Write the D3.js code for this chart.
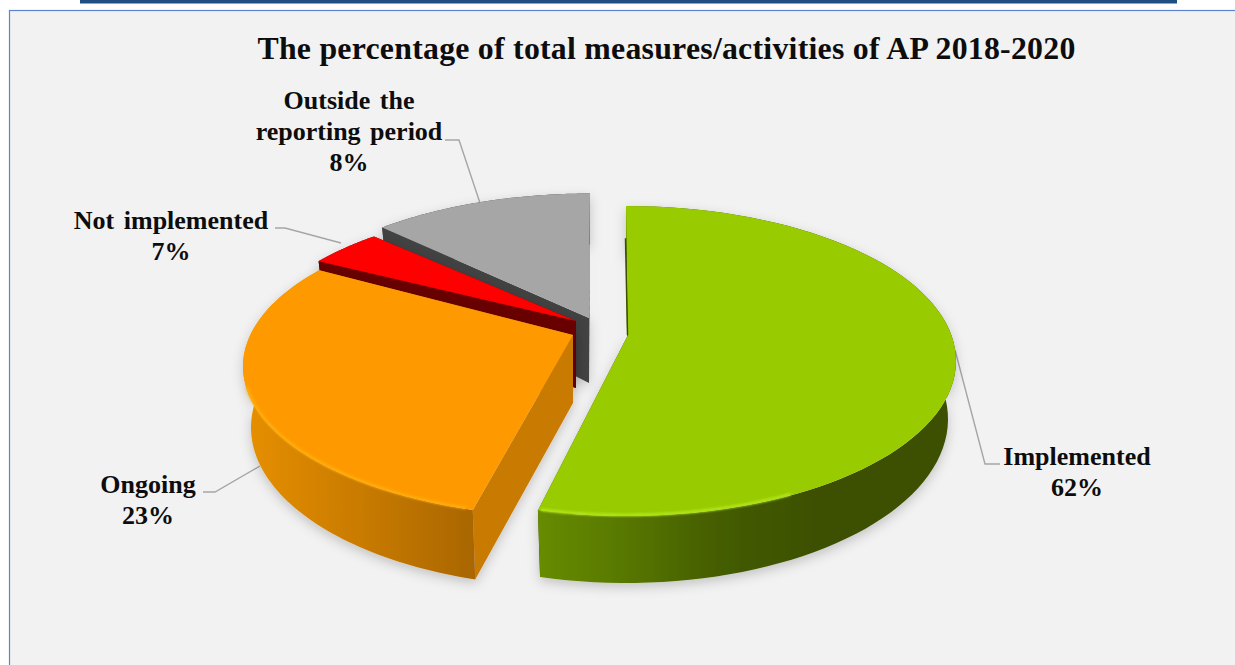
<!DOCTYPE html>
<html><head><meta charset="utf-8">
<script src="https://cdnjs.cloudflare.com/ajax/libs/d3/7.8.5/d3.min.js"></script>
<style>html,body{margin:0;padding:0;background:#fff;overflow:hidden}svg{display:block}
text{font-family:"Liberation Serif",serif;font-weight:bold;fill:#0d0d0d}</style></head><body>
<script>
const chartTitle = "The percentage of total measures/activities of AP 2018-2020";
const categories = ["Implemented", "Ongoing", "Not implemented", "Outside the reporting period"];
const printedPercent = [62, 23, 7, 8];
// Printed labels and drawn wedges disagree in the source picture: these are the wedge sizes as drawn.
const drawnShare = [54.3, 31.6, 3.2, 10.9];

const W = 1235, H = 665;
const RX = 330;
const layout = [
  {apex:[628,335], c:[626,361], ry:155, drop:58, apexDrop:70, trim:[0,0],      bevel:[150,195]},
  {apex:[573,335], c:[573,366.5], ry:150.5, drop:61, apexDrop:68, trim:[2.2,0.5], bevel:[199,262]},
  {apex:[576,321], c:[576,355], ry:150, drop:60, apexDrop:67, trim:[-0.5,1.5]},
  {apex:[589,318], c:[590,345.5], ry:152, drop:60, apexDrop:65, trim:[0.2,0]}
];
const look = [
  {top:"#99cc00", face:"#3c4f00", bevel:"#b4e81e", wall:[["0%","#678c00"],["20%","#587800"],["44%","#445c00"],["68%","#3c4f00"],["100%","#3c4f00"]], x:[538,955]},
  {top:"#ff9900", face:"#c97a00", bevel:"#ffae08", wall:[["0%","#e68f00"],["55%","#c67900"],["100%","#a96600"]], x:[245,475]},
  {top:"#ff0000", face:"#690000", wall:[["0%","#690000"],["100%","#690000"]], x:[320,576]},
  {top:"#a6a6a6", face:"#434343", wall:[["0%","#434343"],["100%","#434343"]], x:[380,590]}
];
const labels = [
  {lines:[categories[0], printedPercent[0]+"%"], x:1077, y:465, leader:[[1000,464],[985,464],[955,350]]},
  {lines:[categories[1], printedPercent[1]+"%"], x:148, y:493, leader:[[203,492],[215,492],[260,466]]},
  {lines:[categories[2], printedPercent[2]+"%"], x:171, y:229, leader:[[275,228],[285,228],[341,243]]},
  {lines:["Outside the","reporting period", printedPercent[3]+"%"], x:349, y:109, leader:[[445,140],[459,140],[480,203]]}
];

const sx = d3.scaleLinear().domain([0,1]).range([RX,322]);   // rim half-width, top to base of the wall
function rim(i, a, low, shrink=0) {
  const L = layout[i];
  const rx = sx(low ? 1 : 0) - shrink, ry = L.ry + (low ? 9 : 0) - shrink;
  return [L.c[0]+rx*Math.sin(a), L.c[1]+(low?L.drop:0)-ry*Math.cos(a)];
}
const apex = (i, low) => [layout[i].apex[0], layout[i].apex[1]+(low?layout[i].apexDrop:0)];
const line = d3.line();
const arcs = d3.pie().sort(null).value(d=>d)(drawnShare);
const rad = d3.scaleLinear().domain([0,180]).range([0,Math.PI]);
const samples = (a0,a1)=>d3.range(0,81).map(k=>a0+(a1-a0)*k/80);

const svg = d3.select("body").append("svg").attr("width",W).attr("height",H);
const defs = svg.append("defs");
const sh = defs.append("filter").attr("id","shadow").attr("x","-20%").attr("y","-20%").attr("width","140%").attr("height","140%");
sh.append("feDropShadow").attr("dx",0).attr("dy",4).attr("stdDeviation",6).attr("flood-color","#000").attr("flood-opacity",0.2);
defs.append("filter").attr("id","soft").append("feGaussianBlur").attr("stdDeviation",0.9);
look.forEach((s,i)=>{
  const g = defs.append("linearGradient").attr("id","wall"+i).attr("gradientUnits","userSpaceOnUse")
    .attr("x1",s.x[0]).attr("x2",s.x[1]).attr("y1",0).attr("y2",0);
  s.wall.forEach(st=>g.append("stop").attr("offset",st[0]).attr("stop-color",st[1]));
});

// page frame
svg.append("rect").attr("x",9.5).attr("y",10.5).attr("width",W).attr("height",H)
  .attr("fill","#f2f2f2").attr("stroke","#5b86cf").attr("stroke-width",1.2);
svg.append("rect").attr("x",80).attr("y",0).attr("width",1097).attr("height",3.5).attr("fill","#1f4e84");

// title
svg.append("text").attr("x",666.5).attr("y",59).attr("text-anchor","middle").attr("font-size",31.8)
  .attr("letter-spacing",0.25).text(chartTitle);

// leaders
svg.append("g").selectAll("path").data(labels).join("path")
  .attr("d",d=>line(d.leader)).attr("fill","none").attr("stroke","#a6a6a6").attr("stroke-width",1.4);

// wedges, back to front
[3,2,1,0].forEach(i=>{
  const a = arcs[i], L = layout[i], s = look[i];
  const a0 = a.startAngle+rad(L.trim[0]), a1 = a.endAngle+rad(L.trim[1]);
  const g = svg.append("g").attr("filter", "url(#shadow)");
  const rimT = samples(a0,a1).map(t=>rim(i,t,false));
  const rimB = samples(a0,a1).map(t=>rim(i,t,true));
  [a0,a1].forEach(t=>{
    g.append("path").attr("d",line([apex(i,false),rim(i,t,false),rim(i,t,true),apex(i,true)])+"Z").attr("fill",s.face);
  });
  g.append("path").attr("d",line(rimT.concat(rimB.slice().reverse()))+"Z").attr("fill","url(#wall"+i+")");
  const g2 = svg.append("g");
  g2.append("path").attr("d",line([apex(i,false)].concat(rimT))+"Z").attr("fill",s.top);
  if (L.bevel) {
    const b = samples(rad(L.bevel[0]),rad(L.bevel[1])).map(t=>rim(i,t,false,1));
    g2.append("path").attr("d",line(b)).attr("fill","none").attr("stroke",s.bevel).attr("stroke-width",2.6).attr("filter","url(#soft)");
  }
  if (i===0) {
    // dark sliver of the wall showing along the first radial edge
    const r0 = rim(0,a0,false), ap = apex(0,false);
    g2.append("path").attr("d",line([[d3.interpolate(r0[0],ap[0])(0.25)-1,d3.interpolate(r0[1],ap[1])(0.25)],[ap[0]-0.5,ap[1]]]))
      .attr("stroke",s.face).attr("stroke-width",1.5).attr("fill","none");
  }
});

// labels
const lineH = 31;
const t = svg.append("g").selectAll("text").data(labels).join("text")
  .attr("x",d=>d.x).attr("y",d=>d.y).attr("text-anchor","middle").attr("font-size",26);
t.selectAll("tspan").data(d=>d.lines.map((l,k)=>({l,k,x:d.x}))).join("tspan")
  .attr("x",d=>d.x).attr("dy",d=>d.k?lineH:0).attr("word-spacing",3).text(d=>d.l);
</script></body></html>
